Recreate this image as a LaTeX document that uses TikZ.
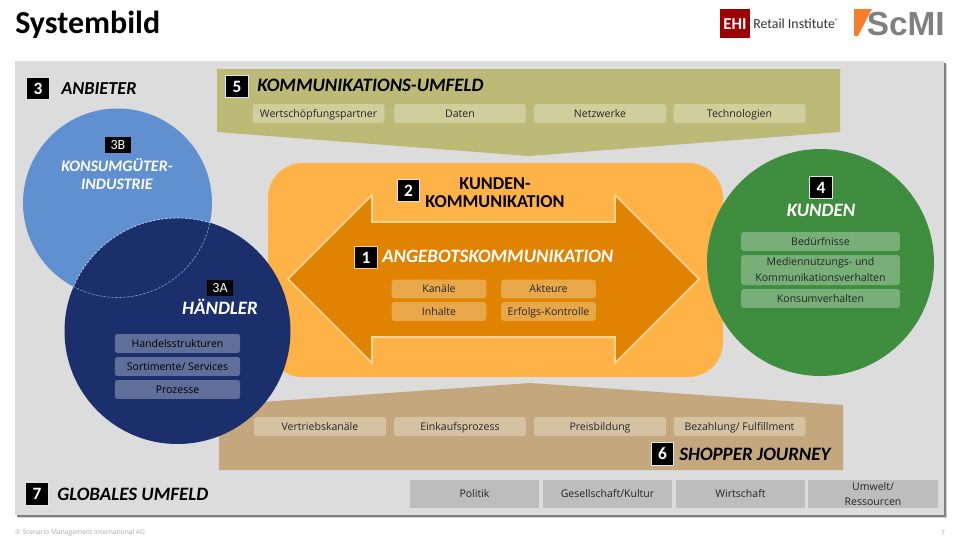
\documentclass[tikz,border=0pt]{standalone}
\usepackage{fontspec}
\setmainfont{Carlito}
\newfontfamily\boxfont{Open Sans}
\newfontfamily\logofont{Liberation Sans}
\usetikzlibrary{positioning,shapes}
\definecolor{panelgray}{HTML}{DCDCDC}
\definecolor{olivebg}{HTML}{BDB976}
\definecolor{olivebox}{HTML}{CFCE9D}
\definecolor{tanbg}{HTML}{C4A77D}
\definecolor{tanbox}{HTML}{D5C2A3}
\definecolor{orangebg}{HTML}{FFB347}
\definecolor{orangedark}{HTML}{DF8300}
\definecolor{orangebox}{HTML}{E8A84A}
\definecolor{blueshape}{HTML}{6090D0}
\definecolor{navyshape}{HTML}{1A2F6B}
\definecolor{navybox}{HTML}{5F6F9A}
\definecolor{greenshape}{HTML}{3F8E3F}
\definecolor{greenbox}{HTML}{78AF78}
\definecolor{graybox}{HTML}{BDBDBD}
\definecolor{ehired}{HTML}{9C0000}
\definecolor{scmiorange}{HTML}{F57F2A}
\tikzset{
  numbox/.style={fill=black, draw=#1, line width=0.6pt, text=white, font=\bfseries\fontsize{13}{14}\selectfont, minimum width=17pt, minimum height=17pt, inner sep=0pt},
  numbox/.default={white!80!gray},
  smallnum/.style={fill=black, text=white, font=\fontsize{10.5}{11}\selectfont, minimum width=19pt, minimum height=12pt, inner sep=0pt},
  headblack/.style={text=black, font=\bfseries\itshape\fontsize{14.2}{16}\selectfont, inner sep=0pt, align=center},
  headwhite/.style={headblack, text=white},
  itembox/.style={rounded corners=2pt, inner sep=0pt, align=center, text=black!85, font=\boxfont\fontsize{7.9}{12}\selectfont},
  oneline/.style={text height=6.6pt, text depth=0.9pt},
  olivebx/.style={itembox, oneline, fill=olivebox, minimum width=99pt, minimum height=14.2pt},
  tanbx/.style={itembox, oneline, fill=tanbox, minimum width=99pt, minimum height=14.2pt},
  orangebx/.style={itembox, oneline, fill=orangebox, minimum width=71pt, minimum height=14pt},
  navybx/.style={itembox, oneline, fill=navybox, text=black, minimum width=94pt, minimum height=14.2pt},
  greenbx/.style={itembox, oneline, fill=greenbox, minimum width=119pt, minimum height=14.2pt},
  greentwo/.style={itembox, fill=greenbox, minimum width=119pt, minimum height=22.5pt},
  graybx/.style={itembox, rounded corners=0pt, fill=graybox, minimum width=97pt, minimum height=21pt, font=\boxfont\fontsize{7.9}{11.5}\selectfont}
}
\begin{document}
\begin{tikzpicture}[x=0.75pt,y=-0.75pt]
\useasboundingbox (0,0) rectangle (960,540);
% title and logos
\node[anchor=base west, inner sep=0pt, font=\bfseries\fontsize{24}{26}\selectfont] (title) at (15,33) {Systembild};
\fill[ehired] (720,9) rectangle (750,38);
\node[text=white, font=\bfseries\fontsize{12.5}{13}\selectfont, inner sep=0pt] (ehi) at (735,24) {EHI};
\node[anchor=west, text=black!80, font=\fontsize{10.4}{12}\selectfont, inner sep=0pt] (retail) at (753,24) {Retail Institute\textsuperscript{\tiny\textregistered}};
\fill[scmiorange] (854,9) -- (872,9) -- (858,36) -- (854,36) -- cycle;
\node[anchor=east, text=black!50, font=\logofont\bfseries\fontsize{25}{26}\selectfont, inner sep=0pt] (scmi) at (945,24) {ScMI};
% panel with shadow
\fill[black!18] (18,64) rectangle (947,518);
\fill[black!50] (17,63) rectangle (946,517);
\fill[panelgray] (15,61) rectangle (944,515);
% group 3 heading
\node[numbox] (n3) at (38,88.5) {3};
\node[headblack, anchor=west, font=\bfseries\itshape\fontsize{13.7}{16}\selectfont] (anbieter) at (61,89) {ANBIETER};
% group 5
\fill[olivebg] (217,69) -- (840,69) -- (840,132) -- (529,156) -- (217,132) -- cycle;
\node[numbox] (n5) at (237,86.5) {5};
\node[headblack, anchor=west] (kommumfeld) at (257,85.5) {KOMMUNIKATIONS-UMFELD};
\node[olivebx] (wert) at (318.5,113.5) {Wertschöpfungspartner};
\node[olivebx] (daten) at (460,113.5) {Daten};
\node[olivebx] (netz) at (600,113.5) {Netzwerke};
\node[olivebx] (tech) at (739.5,113.5) {Technologien};
% group 6
\fill[tanbg] (219,405) -- (530,383) -- (843,405) -- (843,470) -- (219,470) -- cycle;
\node[tanbx] (vertrieb) at (320,426.5) {Vertriebskanäle};
\node[tanbx] (einkauf) at (460,426.5) {Einkaufsprozess};
\node[tanbx] (preis) at (600,426.5) {Preisbildung};
\node[tanbx] (bezahlung) at (739.5,426.5) {Bezahlung/ Fulfillment};
\node[numbox] (n6) at (662.5,454) {6};
\node[headblack, anchor=west] (shopper) at (679,454) {SHOPPER JOURNEY};
% group 2 and 1
\fill[orangebg, rounded corners=26pt] (268,163) rectangle (723,377);
\draw[draw=orangebg!55!white, line width=1.2pt, fill=orangedark, line join=miter] (288,279) -- (372,195) -- (372,222) -- (615,222) -- (615,195) -- (699,279) -- (615,363) -- (615,337) -- (372,337) -- (372,363) -- cycle;
\node[numbox] (n2) at (408.5,190.5) {2};
\node[inner sep=0pt, align=center, font=\bfseries\fontsize{13.6}{13.5}\selectfont] (kundenkomm) at (495,193) {KUNDEN-\\KOMMUNIKATION};
\node[numbox={orangebg!70!white}] (n1) at (366,257.5) {1};
\node[headwhite, anchor=west] (angebot) at (382,256) {ANGEBOTSKOMMUNIKATION};
\node[orangebx] (kanaele) at (439,289) {Kanäle};
\node[orangebx] (inhalte) at (439,311.5) {Inhalte};
\node[orangebx] (akteure) at (548.5,289) {Akteure};
\node[orangebx] (erfolg) at (548.5,311.5) {Erfolgs-Kontrolle};
% group 3 circles
\fill[blueshape] (117.5,203) circle [radius=94.5];
\fill[navyshape] (177.5,331) circle [radius=113];
\begin{scope}
\clip (117.5,203) circle [radius=94.5];
\draw[blueshape!40!white, line width=0.5pt, dash pattern=on 2pt off 1pt] (177.5,331) circle [radius=113];
\end{scope}
\begin{scope}
\clip (177.5,331) circle [radius=113];
\draw[blueshape!90!white, line width=0.5pt, dash pattern=on 2pt off 1pt] (117.5,203) circle [radius=94.5];
\end{scope}
\node[smallnum] (n3b) at (118,145) {3B};
\node[headwhite, font=\bfseries\itshape\fontsize{12}{14}\selectfont] (konsum) at (117,174) {KONSUMGÜTER-\\INDUSTRIE};
\node[smallnum] (n3a) at (220,287.5) {3A};
\node[headwhite] (haendler) at (220,307) {HÄNDLER};
\node[navybx] (handel) at (177.5,343.5) {Handelsstrukturen};
\node[navybx] (sortimente) at (177.5,366.5) {Sortimente/ Services};
\node[navybx] (prozesse) at (177.5,389.5) {Prozesse};
% group 4
\fill[greenshape] (820.5,262.5) circle [radius=113.5];
\node[numbox] (n4) at (821,187.5) {4};
\node[headwhite] (kunden) at (821,210) {KUNDEN};
\node[greenbx] (beduerf) at (820.5,241.5) {Bedürfnisse};
\node[greentwo] (medien) at (820.5,270) {Mediennutzungs- und\\Kommunikationsverhalten};
\node[greenbx] (konsumv) at (820.5,298.5) {Konsumverhalten};
% group 7
\node[numbox] (n7) at (37,494) {7};
\node[headblack, anchor=west] (global) at (57,494) {GLOBALES UMFELD};
\node[graybx] (politik) at (474.5,494) {Politik};
\node[graybx] (gesell) at (607.5,494) {Gesellschaft/Kultur};
\node[graybx] (wirtschaft) at (740.5,494) {Wirtschaft};
\node[graybx] (umwelt) at (873,494) {Umwelt/\\Ressourcen};
% footer
\node[anchor=west, inner sep=0pt, text=black!35, font=\boxfont\fontsize{5}{6}\selectfont] (copyright) at (15,533) {© Scenario Management International AG};
\node[inner sep=0pt, text=black!35, font=\boxfont\fontsize{5}{6}\selectfont] (pagenum) at (943,533) {7};
\end{tikzpicture}
\end{document}
